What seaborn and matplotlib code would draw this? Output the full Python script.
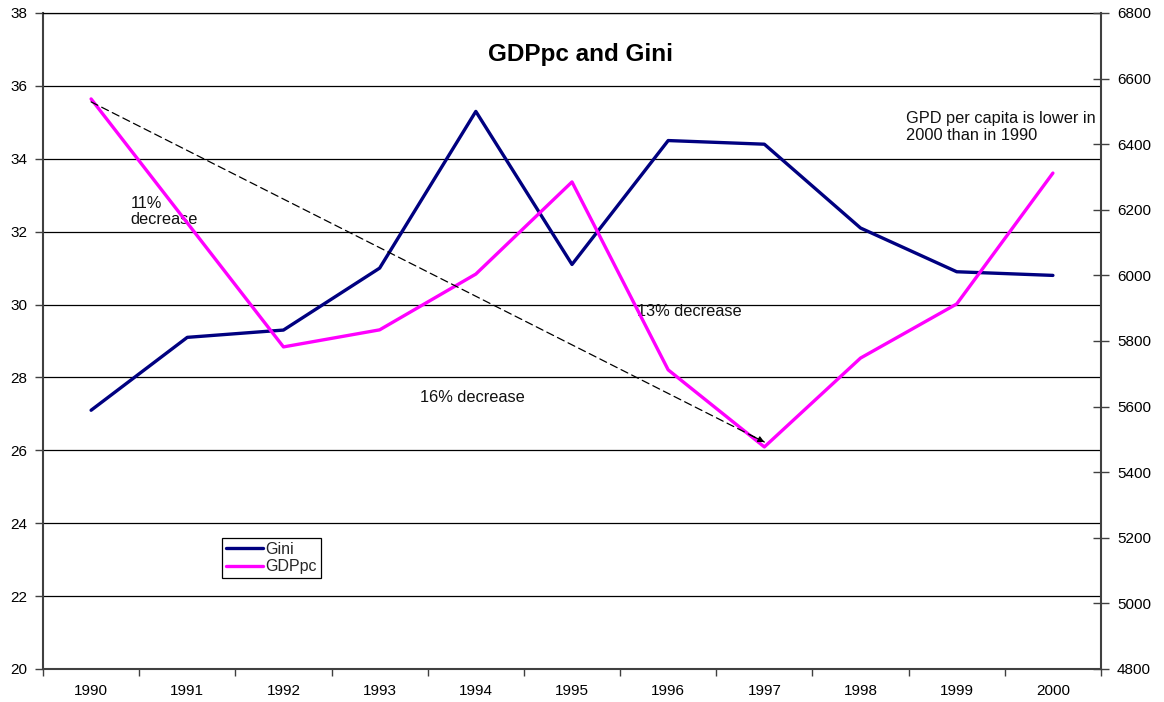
import matplotlib.pyplot as plt
import pandas as pd
import seaborn as sns
from matplotlib.lines import Line2D

# values
years = [1990, 1991, 1992, 1993, 1994, 1995, 1996, 1997, 1998, 1999, 2000]
gini = [27.1, 29.1, 29.3, 31.0, 35.3, 31.1, 34.5, 34.4, 32.1, 30.9, 30.8]
gdppc = [6538, 6160, 5782, 5834, 6004, 6285, 5712, 5477, 5748, 5913, 6312]

gini_ticks = list(range(20, 39, 2))
gdp_ticks = list(range(4800, 6801, 200))

GINI_COLOR = "#000080"
GDP_COLOR = "#FF00FF"
AXIS_COLOR = "#404040"

df = pd.DataFrame({"year": years, "Gini": gini, "GDPpc": gdppc})

sns.set_theme(style="white")
plt.rcParams["font.family"] = ["Liberation Sans", "DejaVu Sans"]

fig, ax = plt.subplots(figsize=(11.64, 7.02), dpi=100)
fig.subplots_adjust(left=43 / 1164, right=1101 / 1164, top=1 - 13 / 702, bottom=1 - 669 / 702)
ax2 = ax.twinx()

sns.lineplot(data=df, x="year", y="Gini", ax=ax, color=GINI_COLOR, lw=2.4, legend=False)
sns.lineplot(data=df, x="year", y="GDPpc", ax=ax2, color=GDP_COLOR, lw=2.4, legend=False)

# axes, ticks, grid
ax.set_xlim(years[0] - 0.5, years[-1] + 0.5)
ax.set_ylim(gini_ticks[0], gini_ticks[-1])
ax2.set_ylim(gdp_ticks[0], gdp_ticks[-1])
ax.set_yticks(gini_ticks)
ax2.set_yticks(gdp_ticks)
ax.set_xticks(years)
ax.set_xticks([y - 0.5 for y in years] + [years[-1] + 0.5], minor=True)
ax.set_xlabel("")
ax.set_ylabel("")
ax2.set_ylabel("")

ax.yaxis.grid(True, color="black", lw=0.9)
ax2.grid(False)

ax.tick_params(axis="x", which="major", length=0, pad=11, labelsize=11, labelcolor="black")
ax.tick_params(axis="x", which="minor", bottom=True, direction="out", length=5, width=1, color=AXIS_COLOR)
ax.tick_params(axis="y", left=True, direction="out", length=6, width=1, color=AXIS_COLOR,
               pad=5.5, labelsize=11, labelcolor="black")
ax2.tick_params(axis="y", right=True, direction="inout", length=11, width=1, color=AXIS_COLOR,
                pad=6, labelsize=11, labelcolor="black")

for side in ("left", "bottom"):
    ax.spines[side].set_color(AXIS_COLOR)
    ax.spines[side].set_linewidth(1.5)
ax.spines["right"].set_visible(False)
ax.spines["top"].set_color("black")
ax.spines["top"].set_linewidth(0.9)
for side in ("left", "bottom", "top"):
    ax2.spines[side].set_visible(False)
ax2.spines["right"].set_color(AXIS_COLOR)
ax2.spines["right"].set_linewidth(1.5)

# title inside the plot area
ax.text(0.5076, 0.936, "GDPpc and Gini", transform=ax.transAxes, ha="center", va="center",
        fontsize=17.5, fontweight="bold", color="black")

# dashed trend arrow from 1990 to 1997 GDPpc
start = (years[0], gdppc[0] - 9)
end = (years[7], gdppc[7] + 15)
ax2.annotate("", xy=end, xytext=start,
             arrowprops=dict(arrowstyle="-", linestyle=(0, (6, 3.5)), color="black",
                             lw=0.9, shrinkA=0, shrinkB=0))
ax2.annotate("", xy=end, xytext=(end[0] - 0.15, end[1] + 22),
             arrowprops=dict(arrowstyle="-|>", color="black", lw=0.9,
                             mutation_scale=9, shrinkA=0, shrinkB=0))

# text notes
note_kw = dict(fontsize=11.8, color="#111111", linespacing=1.1)
ax.text(1990.41, 32.98, "11%\ndecrease", ha="left", va="top", **note_kw)
ax.text(1993.42, 27.46, "16% decrease", ha="left", va="center", **note_kw)
ax.text(1995.68, 29.8, "13% decrease", ha="left", va="center", **note_kw)
ax.text(1998.47, 35.3, "GPD per capita is lower in\n2000 than in 1990", ha="left", va="top", **note_kw)

# legend
handles = [Line2D([], [], color=GINI_COLOR, lw=2.4), Line2D([], [], color=GDP_COLOR, lw=2.4)]
leg = ax2.legend(handles, ["Gini", "GDPpc"], loc="upper left", bbox_to_anchor=(0.169, 0.2),
                 borderaxespad=0, frameon=True, fancybox=False, framealpha=1, edgecolor="black",
                 fontsize=11.5, handlelength=2.3, handletextpad=0.2, labelspacing=0.15, borderpad=0.25)
leg.get_frame().set_linewidth(0.9)

fig.savefig("out.png", dpi=100)
plt.close(fig)
